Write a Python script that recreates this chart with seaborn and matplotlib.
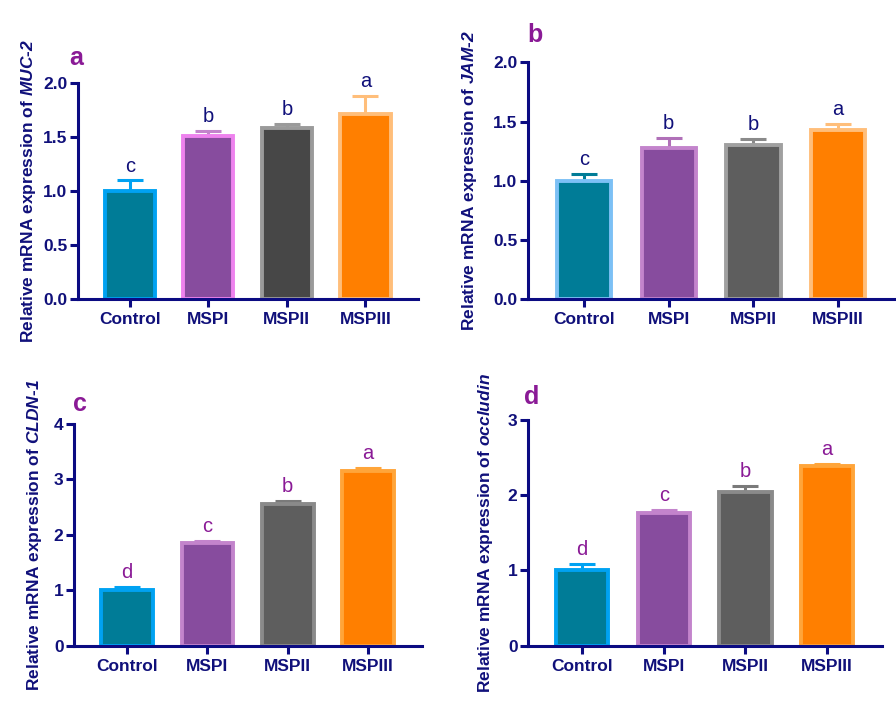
import matplotlib
matplotlib.use("Agg")
import matplotlib.pyplot as plt
import seaborn as sns
import pandas as pd
import numpy as np

sns.set_style("white")
plt.rcParams['font.family'] = ['Liberation Sans', 'DejaVu Sans']
plt.rcParams['mathtext.fontset'] = 'custom'
plt.rcParams['mathtext.bfit'] = 'Liberation Sans:bold:italic'
plt.rcParams['mathtext.it'] = 'Liberation Sans:italic'
plt.rcParams['mathtext.rm'] = 'Liberation Sans'

# ---------------- data ----------------
groups = ["Control", "MSPI", "MSPII", "MSPIII"]

muc2_mean = [1.00, 1.51, 1.585, 1.72]
muc2_err = [0.10, 0.05, 0.035, 0.16]
muc2_letters = ["c", "b", "b", "a"]

jam2_mean = [1.00, 1.28, 1.305, 1.43]
jam2_err = [0.06, 0.08, 0.045, 0.05]
jam2_letters = ["c", "b", "b", "a"]

cldn1_mean = [1.00, 1.86, 2.56, 3.16]
cldn1_err = [0.06, 0.03, 0.05, 0.05]
cldn1_letters = ["d", "c", "b", "a"]

occl_mean = [1.00, 1.77, 2.04, 2.39]
occl_err = [0.09, 0.03, 0.08, 0.03]
occl_letters = ["d", "c", "b", "a"]

ticks_ab = [0.0, 0.5, 1.0, 1.5, 2.0]
ticklabels_ab = ["0.0", "0.5", "1.0", "1.5", "2.0"]
ticks_c = [0, 1, 2, 3, 4]
ticks_d = [0, 1, 2, 3]

# ---------------- style ----------------
NAVY = "#10107a"
AXC = "#0b0b82"
PURPLE = "#8a1a96"

fills_a = ["#007c97", "#874c9e", "#474747", "#ff7f00"]
edges_a = ["#00a2f2", "#ee82ee", "#9a9a9a", "#ffbe7a"]
errc_a = ["#00a2f2", "#c384cc", "#9a9a9a", "#ffbe7a"]

fills_b = ["#007c97", "#874c9e", "#5e5e5e", "#ff7f00"]
edges_b = ["#7cc0f5", "#c384cc", "#a0a0a0", "#ffbe7a"]
errc_b = ["#007c97", "#b070b8", "#8a8a8a", "#ffbe7a"]

fills_cd = ["#007c97", "#874c9e", "#5e5e5e", "#ff7f00"]
edges_cd = ["#00a2f2", "#c384cc", "#8a8a8a", "#ffa53a"]
errc_cd = ["#00a2f2", "#c384cc", "#7a7a7a", "#ffa53a"]

W, H = 896, 702
fig = plt.figure(figsize=(W / 100, H / 100), dpi=100)


def px_axes(left, right, bottom, top):
    return fig.add_axes([left / W, (H - bottom) / H, (right - left) / W, (bottom - top) / H])


def panel(ax, means, errs, letters, fills, edges, errc, ylim, ticks, ticklabels,
          gene_parts, letter_color, panel_label, plabel_xy, labelpad):
    df = pd.DataFrame({"group": groups, "value": means})
    sns.barplot(data=df, x="group", y="value", hue="group", palette=fills,
                width=0.64, errorbar=None, legend=False, ax=ax,
                linewidth=2.8, saturation=1)
    for p, ec in zip(ax.patches, edges):
        p.set_edgecolor(ec)
        p.set_linewidth(2.8)
        p.set_zorder(2)
    x = np.arange(len(groups))
    for i in range(len(groups)):
        ax.errorbar(x[i], means[i], yerr=[[0], [errs[i]]], fmt="none",
                    ecolor=errc[i], elinewidth=2.2, capsize=9.5, capthick=2.2,
                    zorder=1)
        ax.annotate(letters[i], (x[i], means[i] + errs[i]), xytext=(0, 3.5),
                    textcoords="offset points", ha="center", va="bottom",
                    fontsize=14.5, color=letter_color)
    ax.set_xlim(-0.66, 3.67)
    ax.set_ylim(*ylim)
    ax.set_yticks(ticks)
    ax.set_yticklabels(ticklabels)
    ax.set_xlabel("")
    label = "Relative mRNA expression of " + gene_parts
    ax.set_ylabel(label, fontsize=12.5, fontweight="bold", color=NAVY, labelpad=labelpad)
    for s in ["top", "right"]:
        ax.spines[s].set_visible(False)
    for s in ["left", "bottom"]:
        ax.spines[s].set_color(AXC)
        ax.spines[s].set_linewidth(2.2)
    ax.tick_params(axis="both", direction="out", length=5.5, width=2.2, color=AXC,
                   labelsize=12.5, labelcolor=NAVY, pad=3)
    ax.tick_params(axis="y", left=True, pad=2)
    ax.tick_params(axis="x", bottom=True, pad=4)
    for t in ax.get_xticklabels() + ax.get_yticklabels():
        t.set_fontweight("bold")
    ax.set_facecolor("none")
    ax.grid(False)
    fig.text(plabel_xy[0] / W, 1 - plabel_xy[1] / H, panel_label, fontsize=18,
             fontweight="bold", color=PURPLE, ha="center", va="center")


ax_a = px_axes(78, 418, 299.3, 83.3)
panel(ax_a, muc2_mean, muc2_err, muc2_letters, fills_a, edges_a, errc_a,
      (0, 2.0), ticks_ab, ticklabels_ab, r"$\mathbfit{MUC}$-$\mathbfit{2}$",
      NAVY, "a", (76, 58), 4)

ax_b = px_axes(528, 895, 299.3, 62.3)
panel(ax_b, jam2_mean, jam2_err, jam2_letters, fills_b, edges_b, errc_b,
      (0, 2.0), ticks_ab, ticklabels_ab, r"$\mathbfit{JAM}$-$\mathbfit{2}$",
      NAVY, "b", (535, 35), 10)

ax_c = px_axes(74, 422, 645.7, 424)
panel(ax_c, cldn1_mean, cldn1_err, cldn1_letters, fills_cd, edges_cd, errc_cd,
      (0, 4), ticks_c, [str(t) for t in ticks_c], r"$\mathbfit{CLDN}$-$\mathbfit{1}$",
      PURPLE, "c", (80, 404), 7)

ax_d = px_axes(528, 882, 645.7, 420)
panel(ax_d, occl_mean, occl_err, occl_letters, fills_cd, edges_cd, errc_cd,
      (0, 3), ticks_d, [str(t) for t in ticks_d], r"$\mathbfit{occludin}$",
      PURPLE, "d", (532, 397), 9)

fig.savefig("out.png", dpi=100)
